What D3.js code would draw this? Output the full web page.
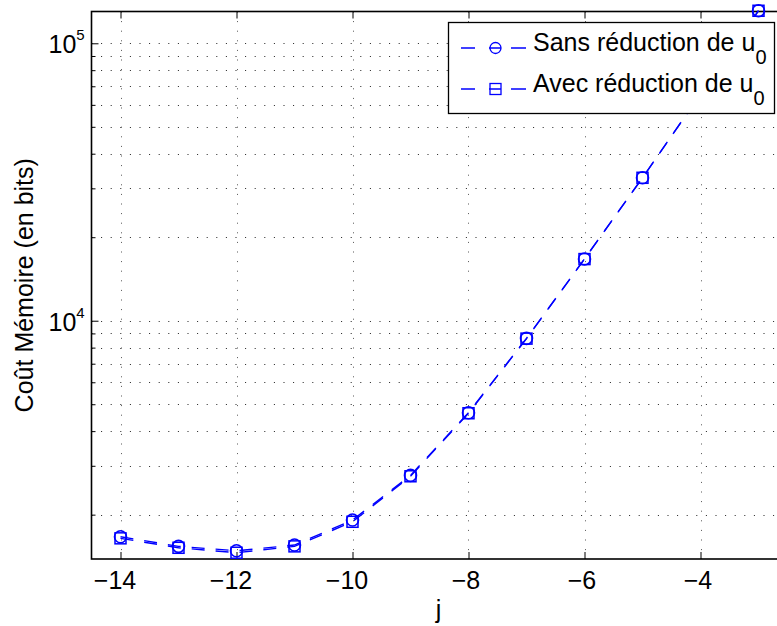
<!DOCTYPE html>
<html><head><meta charset="utf-8">
<script src="https://cdn.jsdelivr.net/npm/d3@7"></script>
<style>
body{margin:0;background:#fff}
svg{display:block}
text{font-family:"Liberation Sans",Arial,Helvetica,sans-serif;fill:#000}
</style>
</head><body>
<svg id="chart" width="777" height="626"></svg>
<script>
// ---- data ----
const jValues = [-14, -13, -12, -11, -10, -9, -8, -7, -6, -5, -4, -3];
const sansReduction = [1665, 1537, 1482, 1554, 1912, 2770, 4660, 8640, 16700, 32770, 65536, 131072];
const avecReduction = [1643, 1519, 1458, 1537, 1885, 2750, 4640, 8620, 16680, 32750, 65500, 131000];
const xTickValues = [-14, -12, -10, -8, -6, -4];
const yMajorTicks = [1e4, 1e5];
const seriesNames = ["Sans réduction de u", "Avec réduction de u"];
const seriesSubscript = "0";
const xLabel = "j";
const yLabel = "Coût Mémoire (en bits)";

// ---- layout ----
const L = 91.5, R = 787.5, T = 11.5, B = 559;
const svg = d3.select("#chart");
const x = d3.scaleLinear().domain([-14.5, -2.5]).range([L, R]);
const y = d3.scaleLog().domain([1384, 130200]).range([B, T]);
const blue = "#0000ff";
const fs = 25;

// grid
const gridDash = "1,8.6";
const yGridTicks = y.ticks().filter(v => v >= y.domain()[0] && v <= y.domain()[1]);
const grid = svg.append("g");
grid.selectAll("line.gy").data(yGridTicks).join("line")
  .attr("x1", L).attr("x2", R)
  .attr("y1", d => Math.round(y(d)) + 0.5).attr("y2", d => Math.round(y(d)) + 0.5)
  .attr("stroke", "#222").attr("stroke-width", 1).attr("stroke-dasharray", gridDash);
grid.selectAll("line.gx").data(xTickValues).join("line")
  .attr("x1", d => Math.round(x(d)) + 0.5).attr("x2", d => Math.round(x(d)) + 0.5)
  .attr("y1", T).attr("y2", B)
  .attr("stroke", "#555").attr("stroke-width", 1).attr("stroke-dasharray", gridDash);

// axes via d3
const xAxisB = d3.axisBottom(x).tickValues(xTickValues).tickSize(-7).tickPadding(0).tickFormat(d3.format("d"));
const gxB = svg.append("g").attr("transform", `translate(0,${B})`).call(xAxisB);
gxB.select(".domain").remove();
gxB.selectAll(".tick line").attr("stroke", "#000").attr("stroke-width", 1);
gxB.selectAll(".tick text").attr("font-size", fs).attr("fill", "#000")
  .attr("y", 30).attr("dy", 0)
  .attr("dx", d => String(Math.abs(d)).length > 1 ? -6 : -3)
  .style("font-family", '"Liberation Sans",Arial,sans-serif');

const xAxisT = d3.axisTop(x).tickValues(xTickValues).tickSize(-7).tickFormat("");
const gxT = svg.append("g").attr("transform", `translate(0,${T})`).call(xAxisT);
gxT.select(".domain").remove();
gxT.selectAll(".tick line").attr("stroke", "#000");

const yAxisMinor = d3.axisLeft(y).tickValues(yGridTicks.filter(v => !yMajorTicks.includes(v))).tickSize(-4).tickFormat("");
const gyMin = svg.append("g").attr("transform", `translate(${L},0)`).call(yAxisMinor);
gyMin.select(".domain").remove();
gyMin.selectAll(".tick line").attr("stroke", "#000");

const yAxis = d3.axisLeft(y).tickValues(yMajorTicks).tickSize(-7).tickFormat("");
const gy = svg.append("g").attr("transform", `translate(${L},0)`).call(yAxis);
gy.select(".domain").remove();
gy.selectAll(".tick line").attr("stroke", "#000");
gy.selectAll(".tick").append("text")
  .attr("x", -43).attr("y", 9.5).attr("text-anchor", "start").attr("font-size", fs)
  .attr("fill", "#000")
  .each(function(d) {
    const t = d3.select(this);
    t.append("tspan").text("10");
    t.append("tspan").attr("font-size", 15).attr("dy", -13).text(Math.round(Math.log10(d)));
  });

// frame
svg.append("rect").attr("x", L).attr("y", T).attr("width", R - L).attr("height", B - T)
  .attr("fill", "none").attr("stroke", "#000").attr("stroke-width", 1.6);

// series
const series = [
  { name: seriesNames[0], values: sansReduction, marker: "circle" },
  { name: seriesNames[1], values: avecReduction, marker: "square" }
];
const line = d3.line().x(d => x(d[0])).y(d => y(d[1]));
const dash = "13,11";
series.forEach(s => {
  const pts = jValues.map((j, i) => [j, s.values[i]]);
  svg.append("path").datum(pts).attr("d", line)
    .attr("fill", "none").attr("stroke", blue).attr("stroke-width", 1.4)
    .attr("stroke-dasharray", dash);
  const g = svg.append("g");
  if (s.marker === "circle") {
    g.selectAll("circle").data(pts).join("circle")
      .attr("cx", d => x(d[0])).attr("cy", d => y(d[1])).attr("r", 6)
      .attr("fill", "none").attr("stroke", blue).attr("stroke-width", 1.6);
  } else {
    g.selectAll("rect").data(pts).join("rect")
      .attr("x", d => x(d[0]) - 5.5).attr("y", d => y(d[1]) - 5.5)
      .attr("width", 11).attr("height", 11)
      .attr("fill", "none").attr("stroke", blue).attr("stroke-width", 1.5);
  }
});

// axis labels
svg.append("text").attr("x", (L + R) / 2 - 1).attr("y", 618).attr("text-anchor", "middle")
  .attr("font-size", fs).text(xLabel);
svg.append("text").attr("transform", `translate(33,${(T + B) / 2}) rotate(-90)`)
  .attr("text-anchor", "middle").attr("font-size", fs).text(yLabel);

// legend
const lg = svg.append("g");
lg.append("rect").attr("x", 448.5).attr("y", 22.5).attr("width", 326).attr("height", 91)
  .attr("fill", "#fff").attr("stroke", "#000").attr("stroke-width", 1.3);
const rowsY = [48, 89];
series.forEach((s, i) => {
  const ry = rowsY[i];
  lg.append("line").attr("x1", 461).attr("x2", 526).attr("y1", ry).attr("y2", ry)
    .attr("stroke", blue).attr("stroke-width", 1.3).attr("stroke-dasharray", "14,14,12,10,15");
  if (s.marker === "circle") {
    lg.append("circle").attr("cx", 495.5).attr("cy", ry).attr("r", 5.5)
      .attr("fill", "none").attr("stroke", blue).attr("stroke-width", 1.3);
  } else {
    lg.append("rect").attr("x", 490).attr("y", ry - 5.5).attr("width", 11).attr("height", 11)
      .attr("fill", "none").attr("stroke", blue).attr("stroke-width", 1.3);
  }
  const t = lg.append("text").attr("x", 533).attr("y", ry + 2.5).attr("font-size", fs);
  t.append("tspan").text(s.name);
  t.append("tspan").attr("font-size", 20).attr("dy", 13).text(seriesSubscript);
});
</script>
</body></html>
